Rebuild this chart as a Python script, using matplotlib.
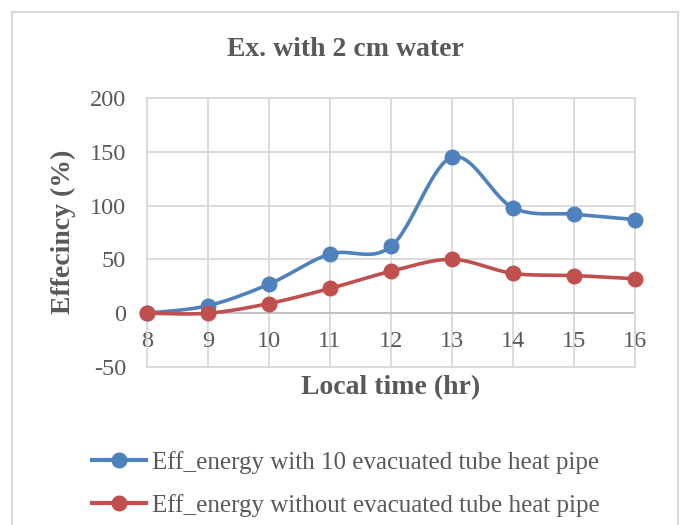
import matplotlib.pyplot as plt
import matplotlib.patches as patches
from matplotlib.lines import Line2D
import numpy as np

# Local time (hr) and efficiency (%) for the two setups
hours = [8, 9, 10, 11, 12, 13, 14, 15, 16]
eff_with_pipe = [0, 7, 27, 55, 62, 145, 98, 92, 87]
eff_without_pipe = [0, 0, 9, 23, 39, 50, 37, 35, 32]

label_with = 'Eff_energy with 10 evacuated tube heat pipe'
label_without = 'Eff_energy without evacuated tube heat pipe'

BLUE = '#4F81BD'
RED = '#C0504D'
TEXT = '#595959'
GRID = '#D9D9D9'
SERIF = 'Liberation Serif'

plt.rcParams['axes.unicode_minus'] = False


def smooth_curve(x, y, n=40):
    """Bezier smoothing through every point, similar to spreadsheet smoothed lines."""
    x = np.asarray(x, float)
    y = np.asarray(y, float)
    px = np.concatenate([[x[0]], x, [x[-1]]])
    py = np.concatenate([[y[0]], y, [y[-1]]])
    xs, ys = [], []
    t = np.linspace(0, 1, n)
    for i in range(1, len(px) - 2):
        p0 = np.array([px[i], py[i]])
        p3 = np.array([px[i + 1], py[i + 1]])
        c1 = p0 + (np.array([px[i + 1], py[i + 1]]) - np.array([px[i - 1], py[i - 1]])) / 6
        c2 = p3 - (np.array([px[i + 2], py[i + 2]]) - np.array([px[i], py[i]])) / 6
        b = ((1 - t) ** 3)[:, None] * p0 + (3 * (1 - t) ** 2 * t)[:, None] * c1 \
            + (3 * (1 - t) * t ** 2)[:, None] * c2 + (t ** 3)[:, None] * p3
        xs.extend(b[:, 0])
        ys.extend(b[:, 1])
    return xs, ys


fig = plt.figure(figsize=(6.81, 5.25), dpi=100)
fig.patch.set_facecolor('white')

# outer chart frame
fig.add_artist(patches.Rectangle((12 / 681, -0.05), 666 / 681, 1 - 12 / 525 + 0.05,
                                 transform=fig.transFigure, fill=False,
                                 edgecolor=GRID, linewidth=1.5))

ax = fig.add_axes([147 / 681, 1 - 367 / 525, 488 / 681, 269 / 525])

for ys, color in [(eff_with_pipe, BLUE), (eff_without_pipe, RED)]:
    sx, sy = smooth_curve(hours, ys)
    ax.plot(sx, sy, color=color, linewidth=2.6, solid_capstyle='round', zorder=3,
            clip_on=False)
    ax.plot(hours, ys, 'o', color=color, markersize=10.5, zorder=4, clip_on=False)

ax.set_xlim(8, 16)
ax.set_ylim(-50, 200)
ax.set_yticks([-50, 0, 50, 100, 150, 200])
ax.set_xticks(hours)
ax.grid(True, color=GRID, linewidth=1.3)
ax.axhline(0, color='#BFBFBF', linewidth=1.3, zorder=2)
for s in ax.spines.values():
    s.set_color(GRID)
    s.set_linewidth(1.3)
ax.tick_params(length=0, labelsize=17.5, labelcolor=TEXT)
ax.tick_params(axis='y', pad=15)
# hour labels sit just under the zero line
ax.tick_params(axis='x', pad=-26)
for lab in ax.get_xticklabels() + ax.get_yticklabels():
    lab.set_fontfamily(SERIF)

fig.text(345 / 681, 1 - 50 / 525, 'Ex. with 2 cm water', ha='center', va='center',
         fontsize=20, fontweight='bold', color=TEXT, family=SERIF)
fig.text(391 / 681, 1 - 388 / 525, 'Local time (hr)', ha='center', va='center',
         fontsize=20, fontweight='bold', color=TEXT, family=SERIF)
fig.text(63 / 681, 1 - 232 / 525, 'Effecincy (%)', ha='center', va='center',
         rotation=90, fontsize=20, fontweight='bold', color=TEXT, family=SERIF)

handles = [
    Line2D([], [], color=BLUE, linewidth=3, marker='o', markersize=10.5),
    Line2D([], [], color=RED, linewidth=3, marker='o', markersize=10.5),
]
leg = fig.legend(handles, [label_with, label_without], loc='upper left',
                 bbox_to_anchor=(92 / 681, 1 - 451 / 525), frameon=False,
                 borderpad=0, borderaxespad=0,
                 handlelength=2.15, handletextpad=0.25, labelspacing=0.8,
                 prop={'family': SERIF, 'size': 18})
for t in leg.get_texts():
    t.set_color(TEXT)

fig.savefig('out.png', dpi=100)
